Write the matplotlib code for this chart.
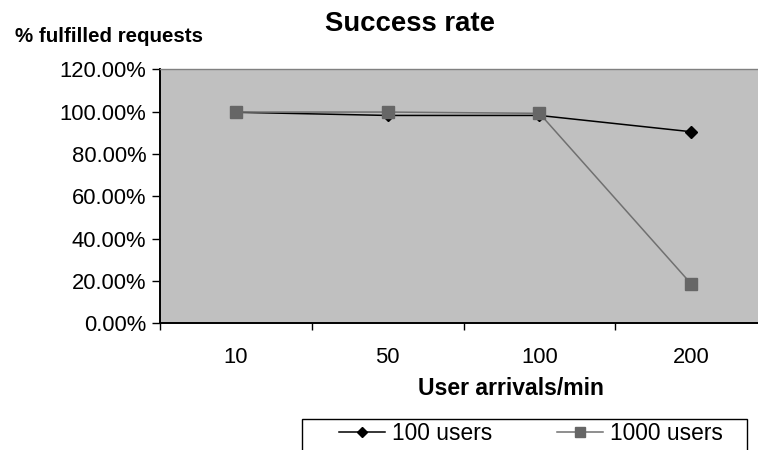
import matplotlib
matplotlib.use("Agg")
import matplotlib.pyplot as plt
from matplotlib.patches import Rectangle
from matplotlib.ticker import FuncFormatter, FixedLocator

plt.rcParams['font.family'] = ['Liberation Sans', 'DejaVu Sans']

categories = ['10', '50', '100', '200']
users_100 = [99.7, 98.2, 98.2, 90.5]
users_1000 = [99.8, 99.8, 99.2, 18.6]
y_ticks = [0, 20, 40, 60, 80, 100, 120]

W, H = 758, 450
fig = plt.figure(figsize=(W / 100, H / 100), dpi=100)
ax = fig.add_axes([160 / W, 1 - 323.3 / H, 598 / W, 254 / H])
ax.set_facecolor('#c0c0c0')

x = list(range(len(categories)))
ax.plot(x, users_100, color='black', lw=1.1, marker='D', ms=6.0,
        mfc='black', mec='black', label='100 users', zorder=3)
ax.plot(x, users_1000, color='#707070', lw=1.1, marker='s', ms=8.4,
        mfc='#666666', mec='#666666', label='1000 users', zorder=4)

ax.set_xlim(-0.5, 3.44)
ax.set_ylim(0, 120)
ax.set_yticks(y_ticks)
ax.yaxis.set_major_formatter(FuncFormatter(lambda v, p: f"{v:.2f}%"))
ax.set_xticks(x)
ax.set_xticklabels(categories)
ax.xaxis.set_minor_locator(FixedLocator([-0.5, 0.5, 1.5, 2.5]))

ax.tick_params(axis='y', direction='out', length=5.8, width=1, pad=4, labelsize=15.8)
ax.tick_params(axis='x', which='major', length=0, pad=17, labelsize=15.8)
ax.tick_params(axis='x', which='minor', direction='out', length=5, width=1)

for s in ['left', 'bottom']:
    ax.spines[s].set_linewidth(1.4)
    ax.spines[s].set_color('black')
ax.spines['top'].set_color('#808080')
ax.spines['top'].set_linewidth(1)
ax.spines['right'].set_visible(False)

fig.text(410 / W, 1 - 31 / H, 'Success rate', fontsize=19.8, fontweight='bold',
         ha='center', va='baseline')
fig.text(15 / W, 1 - 42 / H, '% fulfilled requests', fontsize=14.8, fontweight='bold',
         ha='left', va='baseline')
fig.text(511 / W, 1 - 395 / H, 'User arrivals/min', fontsize=16.6, fontweight='bold',
         ha='center', va='baseline')

leg = ax.legend(loc='upper left', bbox_to_anchor=(339 / W, 1 - 422 / H),
                bbox_transform=fig.transFigure, ncol=2, frameon=False,
                fontsize=16.4, borderpad=0, borderaxespad=0, handlelength=2.02,
                handletextpad=0.31, columnspacing=2.85, markerscale=0.8)
fig.add_artist(Rectangle((302 / W, -0.1), (747 - 302) / W, (450 - 419) / H + 0.1,
                         transform=fig.transFigure, fill=False, ec='black', lw=1))

fig.savefig('out.png', dpi=100)
